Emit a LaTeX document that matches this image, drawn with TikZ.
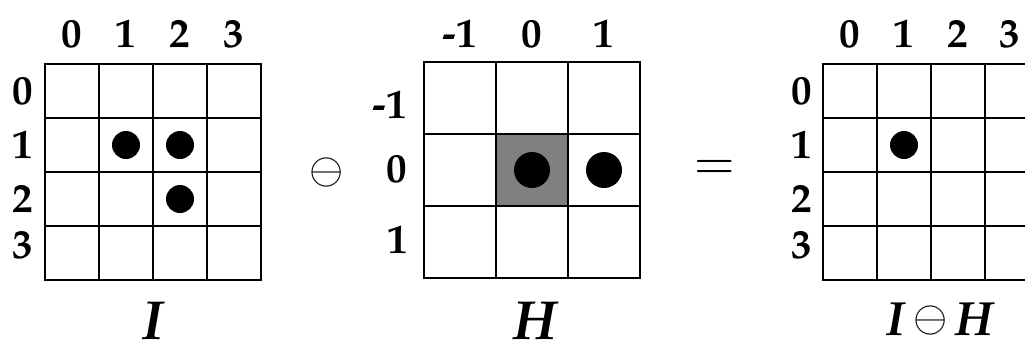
\documentclass[tikz,border=0pt]{standalone}
\usepackage[T1]{fontenc}
\newcommand\palb[1]{\fontencoding{T1}\fontfamily{ppl}\fontseries{b}\fontshape{n}\fontsize{#1}{#1}\selectfont}
\newcommand\palbi[1]{\fontencoding{T1}\fontfamily{ppl}\fontseries{b}\fontshape{it}\fontsize{#1}{#1}\selectfont}
\newcommand\bigominus{{\fontsize{10}{12}\selectfont\scalebox{4.4}{$\ominus$}}}
\begin{document}
\begin{tikzpicture}[x=1pt,y=-1pt,
  gridline/.style={line width=1.3pt, line cap=rect},
  lab/.style={font=\palb{41}, inner sep=0pt, anchor=base},
  biglab/.style={font=\palbi{55}, inner sep=0pt, anchor=base},
  reslab/.style={font=\palbi{48}, inner sep=0pt, anchor=base},
  op/.style={inner sep=0pt, anchor=center},
  dotc/.style={fill=black}]
\useasboundingbox (0,0) rectangle (1025,343);
% ---------- grid I ----------
\foreach \i in {0,...,4} {
  \draw[gridline] (45+54*\i,64) -- (45+54*\i,280);
  \draw[gridline] (45,64+54*\i) -- (261,64+54*\i);
}
\foreach \c/\x in {0/72,1/126,2/180,3/234}
  \node[lab] (Ic\c) at (\x,47) {\c};
\foreach \r/\y in {0/104,1/158,2/212,3/258}
  \node[lab] (Ir\r) at (23,\y) {\r};
\fill[dotc] (126,145) circle (14);
\fill[dotc] (180,145) circle (14);
\fill[dotc] (180,199) circle (14);
\node[biglab] (Ilab) at (153,339) {I};
% ---------- operator ----------
\node[op] (ominus) at (327,172) {\bigominus};
% ---------- grid H ----------
\fill[fill={rgb,255:red,128;green,128;blue,128}] (496,134) rectangle (568,206);
\foreach \i in {0,...,3} {
  \draw[gridline] (424+72*\i,62) -- (424+72*\i,278);
  \draw[gridline] (424,62+72*\i) -- (640,62+72*\i);
}
\node[lab] (Hcm) at (460,47) {-1};
\node[lab] (Hc0) at (532,47) {0};
\node[lab] (Hc1) at (604,47) {1};
\node[lab] (Hrm) at (390,118) {-1};
\node[lab] (Hr0) at (397,182) {0};
\node[lab] (Hr1) at (398,253) {1};
\fill[dotc] (532,170) circle (18);
\fill[dotc] (604,170) circle (18);
\node[biglab] (Hlab) at (535,339) {H};
% ---------- equals ----------
\node[op] (eq) at (715,170) {{\fontsize{10}{12}\selectfont\scalebox{5.2}{$=$}}};
% ---------- result grid ----------
\foreach \i in {0,...,4} {
  \draw[gridline] (823+54*\i,64) -- (823+54*\i,280);
  \draw[gridline] (823,64+54*\i) -- (1039,64+54*\i);
}
\foreach \c/\x in {0/850,1/904,2/958,3/1010}
  \node[lab] (Rc\c) at (\x,47) {\c};
\foreach \r/\y in {0/104,1/158,2/212,3/258}
  \node[lab] (Rr\r) at (802,\y) {\r};
\fill[dotc] (904,145) circle (14);
\node[reslab] (Rlab) at (940,335) {I\hspace{8pt}\raisebox{4pt}{\bigominus}\hspace{8pt}H};
\end{tikzpicture}
\end{document}
